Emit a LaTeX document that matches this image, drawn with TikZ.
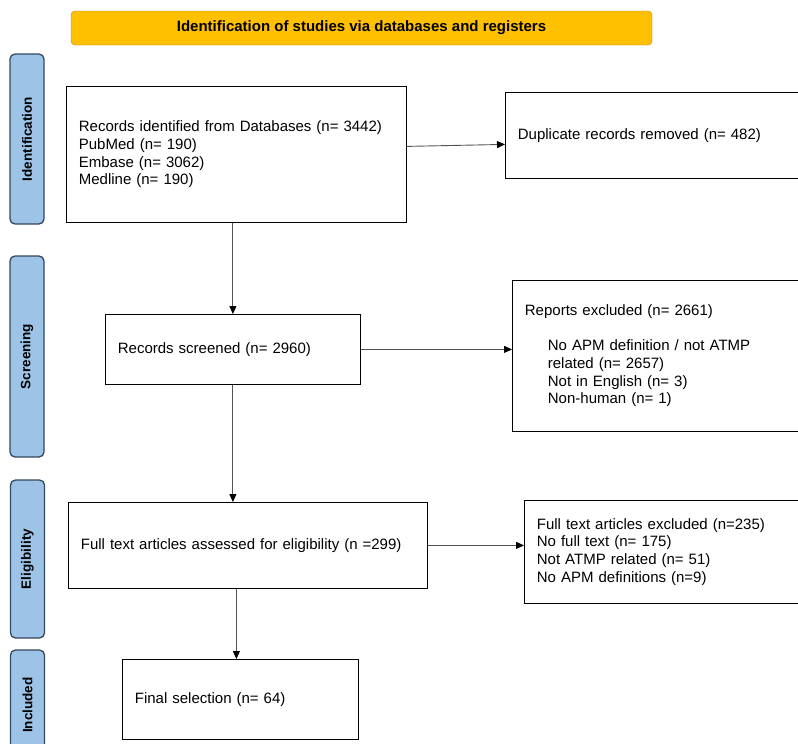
\documentclass[tikz,border=0pt]{standalone}
\usepackage{fontspec}
\setmainfont{Liberation Sans}
\newfontfamily\stagefont{Liberation Sans}
\usetikzlibrary{arrows.meta,positioning}
\definecolor{titleorange}{RGB}{255,192,0}
\definecolor{titleedge}{RGB}{190,135,20}
\definecolor{stageblue}{RGB}{157,195,230}
\definecolor{stageedge}{RGB}{52,72,94}

\begin{document}
\begin{tikzpicture}[x=1pt, y=-1pt,
    box/.style={rectangle, draw, line width=0.8pt, anchor=north west, align=left, inner xsep=12.5pt, inner ysep=0pt, font=\fontsize{15}{17.6}\selectfont},
    stage/.style={rectangle, draw=stageedge, fill=stageblue, line width=1.3pt, rounded corners=5pt, rotate=90, minimum height=34pt, font=\stagefont\fontsize{13.5}{15}\selectfont\bfseries},
    arrow/.style={line width=0.9pt, draw=gray!65!black, -{Triangle[length=8pt, width=7pt, color=black]}}
]
\useasboundingbox (0,0) rectangle (798,744);

% Title
\node[rectangle, draw=titleedge, fill=titleorange, rounded corners=4pt, minimum width=581pt, minimum height=34pt, font=\fontsize{15}{17}\selectfont\bfseries] (title) at (361.5,28) {Identification of studies via databases and registers};

% Stages
\node[stage, minimum width=170pt] (ident) at (27,139) {Identification};
\node[stage, minimum width=201pt] (screen) at (27,356.5) {Screening};
\node[stage, minimum width=158pt] (elig) at (27.5,559) {Eligibility};
\node[stage, minimum width=110pt] (incl) at (27.5,705) {Included};

% Boxes
\node[box, text width=315pt, minimum height=136pt] (rec) at (66,86) {Records identified from Databases (n= 3442)\\PubMed (n= 190)\\Embase (n= 3062)\\Medline (n= 190)};
\node[box, text width=280pt, minimum height=86pt] (dup) at (505,92) {Duplicate records removed (n= 482)};
\node[box, text width=230pt, minimum height=70pt] (scr) at (105,314) {Records screened (n= 2960)};
\node[box, text width=273pt, minimum height=151pt] (rep) at (512,280) {Reports excluded (n= 2661)\\[17.6pt]
    \hspace*{23pt}No APM definition / not ATMP\\
    \hspace*{23pt}related (n= 2657)\\
    \hspace*{23pt}Not in English (n= 3)\\
    \hspace*{23pt}Non-human (n= 1)};
\node[box, text width=334pt, minimum height=86pt] (full) at (68,502) {Full text articles assessed for eligibility (n =299)};
\node[box, text width=261pt, minimum height=103pt] (fex) at (524,500) {Full text articles excluded (n=235)\\No full text (n= 175)\\Not ATMP related (n= 51)\\No APM definitions (n=9)};
\node[box, text width=211pt, minimum height=80pt] (fin) at (122,659) {Final selection (n= 64)};

% Connections
\draw[arrow] ([yshift=8pt]rec.east) -- ([yshift=-9pt]dup.west);
\draw[arrow] (scr.north |- rec.south) -- (scr.north);
\draw[arrow] (scr.east) -- (scr.east -| rep.west);
\draw[arrow] (scr.south) -- (scr.south |- full.north);
\draw[arrow] (full.east) -- (full.east -| fex.west);
\draw[arrow] ([xshift=-4pt]fin.north |- full.south) -- ([xshift=-4pt]fin.north);

\end{tikzpicture}
\end{document}
